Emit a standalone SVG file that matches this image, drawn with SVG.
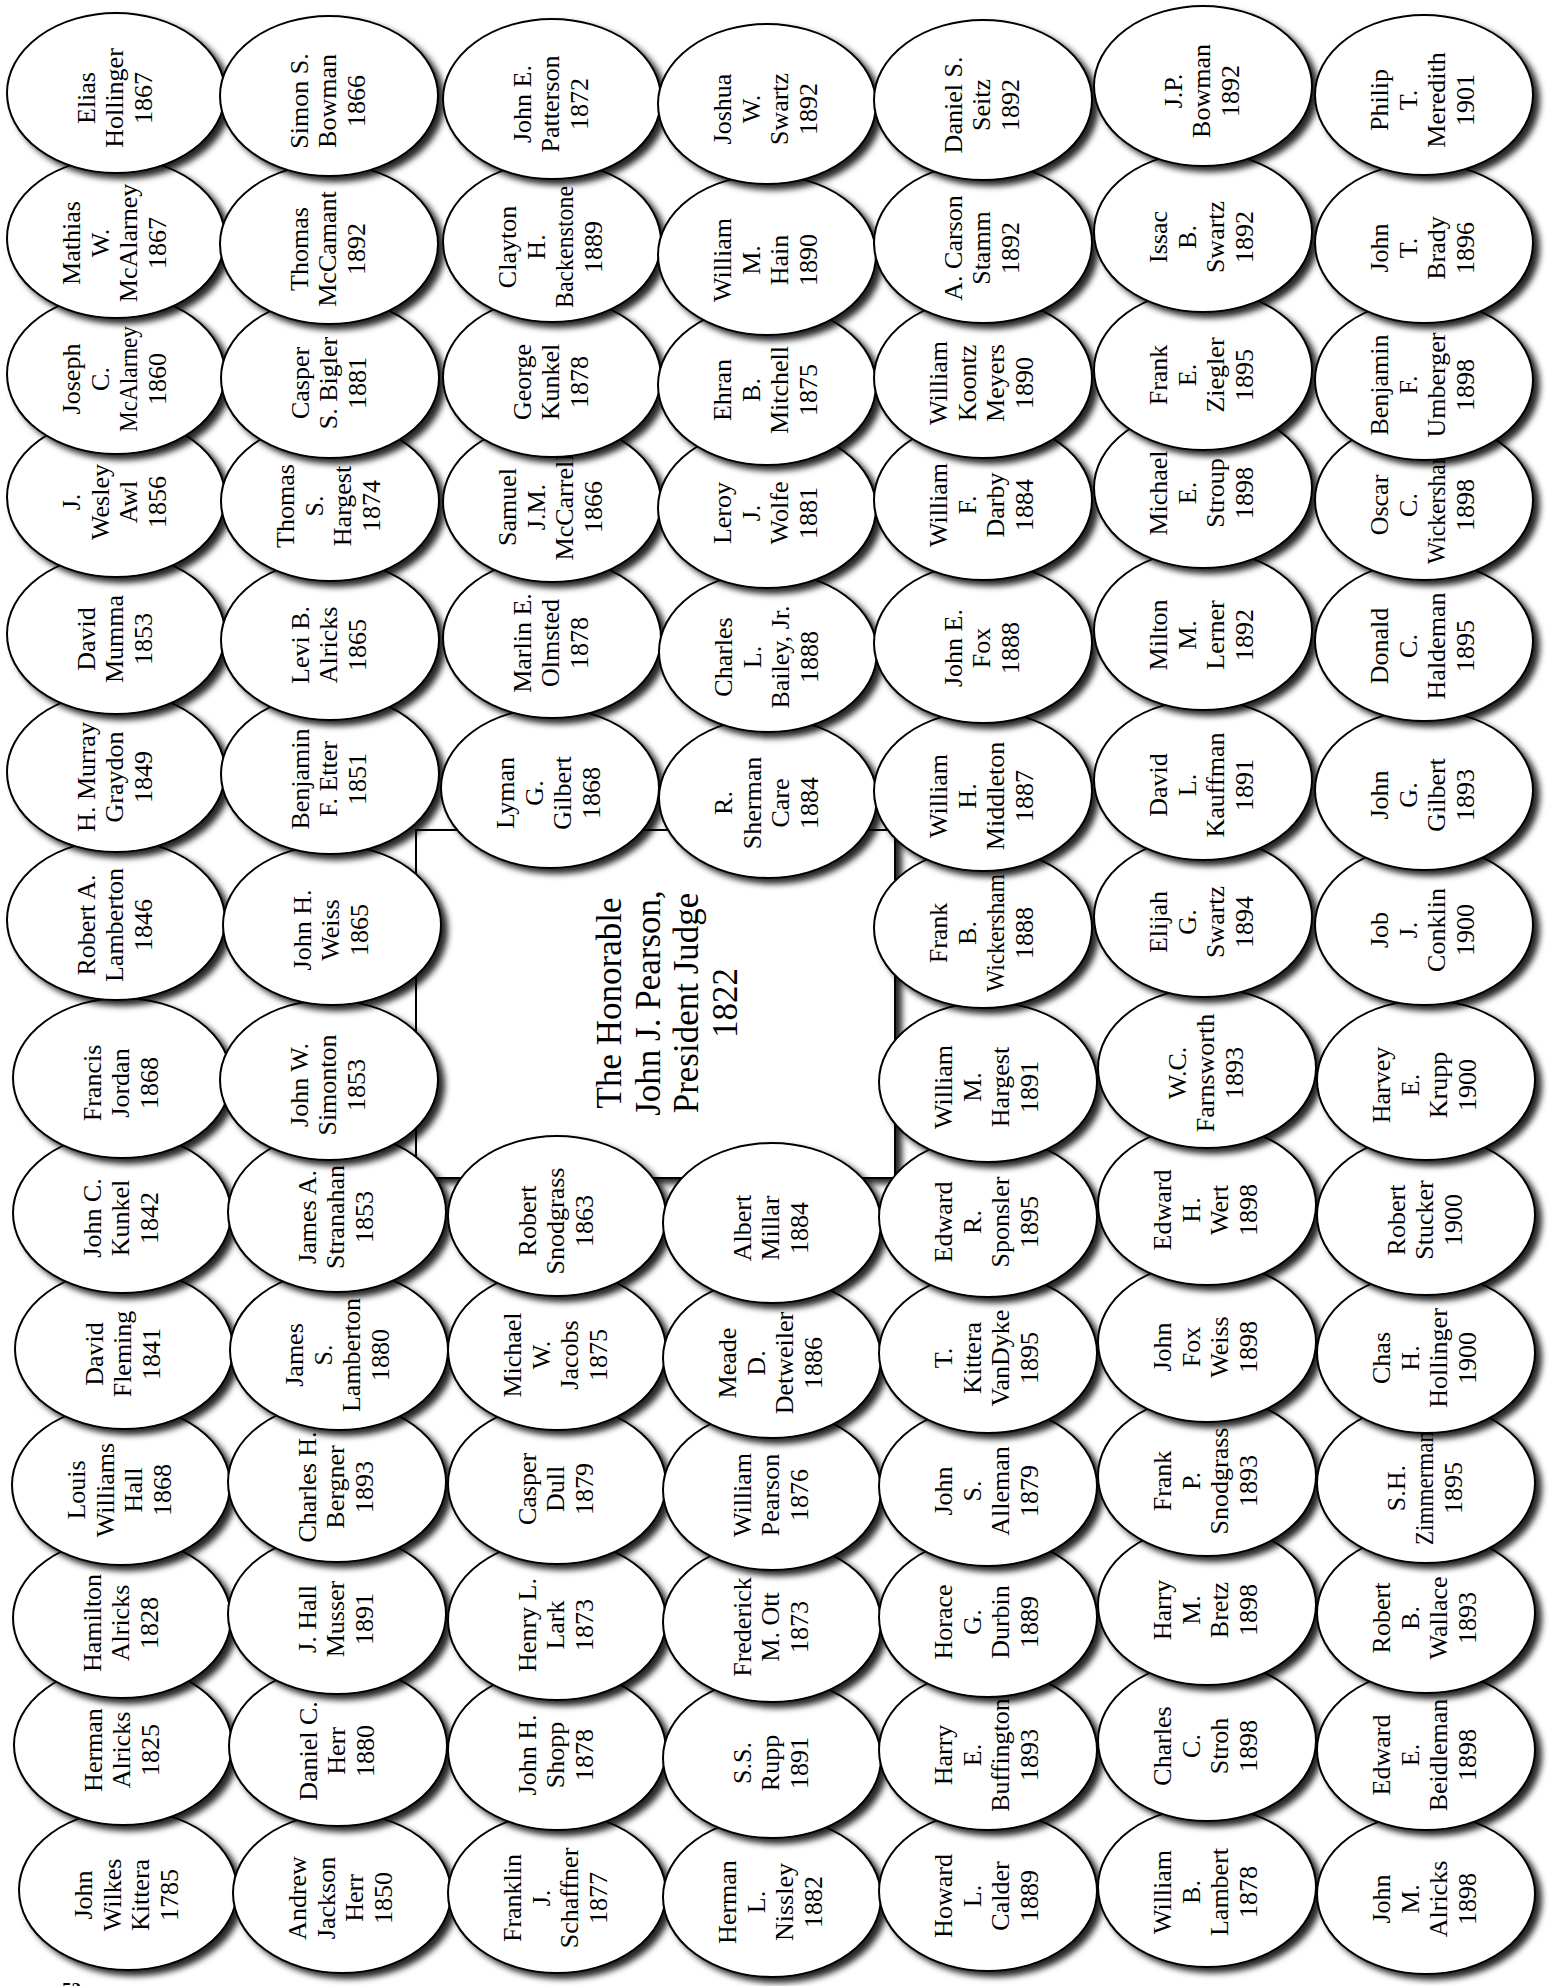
<svg xmlns="http://www.w3.org/2000/svg" width="1551" height="1986" viewBox="0 0 1551 1986">
<defs>
<filter id="sh" x="-10%" y="-10%" width="125%" height="130%">
<feDropShadow dx="6" dy="5" stdDeviation="3" flood-color="#000" flood-opacity="0.85"/>
</filter>
</defs>
<style>
.e{fill:#fff;stroke:#000;stroke-width:2;filter:url(#sh)}
.t{font-family:"Liberation Serif","Times New Roman",serif;font-size:26px;fill:#000;text-anchor:middle}
.b{font-family:"Liberation Serif","Times New Roman",serif;font-size:35px;fill:#000;text-anchor:middle}
</style>
<rect width="1551" height="1986" fill="#fff"/>
<g id="center-box">
<rect x="416" y="830" width="479" height="348" fill="#fff" stroke="#000" stroke-width="2" filter="url(#sh)"/>
<text class="b" transform="translate(655,1003) rotate(-90)"><tspan x="0" y="-34">The Honorable</tspan><tspan x="0" y="4.5">John J. Pearson,</tspan><tspan x="0" y="43">President Judge</tspan><tspan x="0" y="81.5">1822</tspan></text>
</g>
<g id="connectors"/>
<g id="nodes">
<!-- column 1 -->
<g id="john-wilkes-kittera" transform="translate(128,1890)"><ellipse class="e" rx="109" ry="80"/><text class="t" transform="rotate(-90)"><tspan x="-5" y="-36">John</tspan><tspan x="-5" y="-7.5">Wilkes</tspan><tspan x="-5" y="21">Kittera</tspan><tspan x="-5" y="49.5">1785</tspan></text></g>
<g id="herman-alricks" transform="translate(123,1745)"><ellipse class="e" rx="109" ry="80"/><text class="t" transform="rotate(-90)"><tspan x="-5" y="-21.5">Herman</tspan><tspan x="-5" y="7">Alricks</tspan><tspan x="-5" y="35.5">1825</tspan></text></g>
<g id="hamilton-alricks" transform="translate(122,1618)"><ellipse class="e" rx="109" ry="80"/><text class="t" transform="rotate(-90)"><tspan x="-5" y="-21.5">Hamilton</tspan><tspan x="-5" y="7">Alricks</tspan><tspan x="-5" y="35.5">1828</tspan></text></g>
<g id="louis-williams-hall" transform="translate(121,1485)"><ellipse class="e" rx="109" ry="80"/><text class="t" transform="rotate(-90)"><tspan x="-5" y="-36">Louis</tspan><tspan x="-5" y="-7.5">Williams</tspan><tspan x="-5" y="21">Hall</tspan><tspan x="-5" y="49.5">1868</tspan></text></g>
<g id="david-fleming" transform="translate(124,1349)"><ellipse class="e" rx="109" ry="80"/><text class="t" transform="rotate(-90)"><tspan x="-5" y="-21.5">David</tspan><tspan x="-5" y="7">Fleming</tspan><tspan x="-5" y="35.5">1841</tspan></text></g>
<g id="john-c-kunkel" transform="translate(122,1213)"><ellipse class="e" rx="109" ry="80"/><text class="t" transform="rotate(-90)"><tspan x="-5" y="-21.5">John C.</tspan><tspan x="-5" y="7">Kunkel</tspan><tspan x="-5" y="35.5">1842</tspan></text></g>
<g id="francis-jordan" transform="translate(122,1078)"><ellipse class="e" rx="109" ry="80"/><text class="t" transform="rotate(-90)"><tspan x="-5" y="-21.5">Francis</tspan><tspan x="-5" y="7">Jordan</tspan><tspan x="-5" y="35.5">1868</tspan></text></g>
<g id="robert-a-lamberton" transform="translate(116,920)"><ellipse class="e" rx="109" ry="80"/><text class="t" transform="rotate(-90)"><tspan x="-5" y="-21.5">Robert A.</tspan><tspan x="-5" y="7">Lamberton</tspan><tspan x="-5" y="35.5">1846</tspan></text></g>
<g id="h-murray-graydon" transform="translate(116,772)"><ellipse class="e" rx="109" ry="80"/><text class="t" transform="rotate(-90)"><tspan x="-5" y="-21.5">H. Murray</tspan><tspan x="-5" y="7">Graydon</tspan><tspan x="-5" y="35.5">1849</tspan></text></g>
<g id="david-mumma" transform="translate(116,634)"><ellipse class="e" rx="109" ry="80"/><text class="t" transform="rotate(-90)"><tspan x="-5" y="-21.5">David</tspan><tspan x="-5" y="7">Mumma</tspan><tspan x="-5" y="35.5">1853</tspan></text></g>
<g id="j-wesley-awl" transform="translate(116,497)"><ellipse class="e" rx="109" ry="80"/><text class="t" transform="rotate(-90)"><tspan x="-5" y="-36">J.</tspan><tspan x="-5" y="-7.5">Wesley</tspan><tspan x="-5" y="21">Awl</tspan><tspan x="-5" y="49.5">1856</tspan></text></g>
<g id="joseph-c-mcalarney" transform="translate(116,374)"><ellipse class="e" rx="109" ry="80"/><text class="t" transform="rotate(-90)"><tspan x="-5" y="-36">Joseph</tspan><tspan x="-5" y="-7.5">C.</tspan><tspan x="-5" y="21" textLength="106" lengthAdjust="spacingAndGlyphs">McAlarney</tspan><tspan x="-5" y="49.5">1860</tspan></text></g>
<g id="mathias-w-mcalarney" transform="translate(116,238)"><ellipse class="e" rx="109" ry="80"/><text class="t" transform="rotate(-90)"><tspan x="-5" y="-36">Mathias</tspan><tspan x="-5" y="-7.5">W.</tspan><tspan x="-5" y="21">McAlarney</tspan><tspan x="-5" y="49.5">1867</tspan></text></g>
<g id="elias-hollinger" transform="translate(116,93)"><ellipse class="e" rx="109" ry="80"/><text class="t" transform="rotate(-90)"><tspan x="-5" y="-21.5">Elias</tspan><tspan x="-5" y="7">Hollinger</tspan><tspan x="-5" y="35.5">1867</tspan></text></g>
<!-- column 2 -->
<g id="andrew-jackson-herr" transform="translate(342,1893)"><ellipse class="e" rx="109" ry="80"/><text class="t" transform="rotate(-90)"><tspan x="-5" y="-36">Andrew</tspan><tspan x="-5" y="-7.5">Jackson</tspan><tspan x="-5" y="21">Herr</tspan><tspan x="-5" y="49.5">1850</tspan></text></g>
<g id="daniel-c-herr" transform="translate(338,1746)"><ellipse class="e" rx="109" ry="80"/><text class="t" transform="rotate(-90)"><tspan x="-5" y="-21.5">Daniel C.</tspan><tspan x="-5" y="7">Herr</tspan><tspan x="-5" y="35.5">1880</tspan></text></g>
<g id="j-hall-musser" transform="translate(337,1614)"><ellipse class="e" rx="109" ry="80"/><text class="t" transform="rotate(-90)"><tspan x="-5" y="-21.5">J. Hall</tspan><tspan x="-5" y="7">Musser</tspan><tspan x="-5" y="35.5">1891</tspan></text></g>
<g id="charles-h-bergner" transform="translate(337,1482)"><ellipse class="e" rx="109" ry="80"/><text class="t" transform="rotate(-90)"><tspan x="-5" y="-21.5">Charles H.</tspan><tspan x="-5" y="7">Bergner</tspan><tspan x="-5" y="35.5">1893</tspan></text></g>
<g id="james-s-lamberton" transform="translate(339,1350)"><ellipse class="e" rx="109" ry="80"/><text class="t" transform="rotate(-90)"><tspan x="-5" y="-36">James</tspan><tspan x="-5" y="-7.5">S.</tspan><tspan x="-5" y="21">Lamberton</tspan><tspan x="-5" y="49.5">1880</tspan></text></g>
<g id="james-a-stranahan" transform="translate(337,1212)"><ellipse class="e" rx="109" ry="80"/><text class="t" transform="rotate(-90)"><tspan x="-5" y="-21.5">James A.</tspan><tspan x="-5" y="7">Stranahan</tspan><tspan x="-5" y="35.5">1853</tspan></text></g>
<g id="john-w-simonton" transform="translate(329,1080)"><ellipse class="e" rx="109" ry="80"/><text class="t" transform="rotate(-90)"><tspan x="-5" y="-21.5">John W.</tspan><tspan x="-5" y="7">Simonton</tspan><tspan x="-5" y="35.5">1853</tspan></text></g>
<g id="john-h-weiss" transform="translate(332,925)"><ellipse class="e" rx="109" ry="80"/><text class="t" transform="rotate(-90)"><tspan x="-5" y="-21.5">John H.</tspan><tspan x="-5" y="7">Weiss</tspan><tspan x="-5" y="35.5">1865</tspan></text></g>
<g id="benjamin-f-etter" transform="translate(330,774)"><ellipse class="e" rx="109" ry="80"/><text class="t" transform="rotate(-90)"><tspan x="-5" y="-21.5">Benjamin</tspan><tspan x="-5" y="7">F. Etter</tspan><tspan x="-5" y="35.5">1851</tspan></text></g>
<g id="levi-b-alricks" transform="translate(330,640)"><ellipse class="e" rx="109" ry="80"/><text class="t" transform="rotate(-90)"><tspan x="-5" y="-21.5">Levi B.</tspan><tspan x="-5" y="7">Alricks</tspan><tspan x="-5" y="35.5">1865</tspan></text></g>
<g id="thomas-s-hargest" transform="translate(330,501)"><ellipse class="e" rx="109" ry="80"/><text class="t" transform="rotate(-90)"><tspan x="-5" y="-36">Thomas</tspan><tspan x="-5" y="-7.5">S.</tspan><tspan x="-5" y="21">Hargest</tspan><tspan x="-5" y="49.5">1874</tspan></text></g>
<g id="casper-s-bigler" transform="translate(330,378)"><ellipse class="e" rx="109" ry="80"/><text class="t" transform="rotate(-90)"><tspan x="-5" y="-21.5">Casper</tspan><tspan x="-5" y="7">S. Bigler</tspan><tspan x="-5" y="35.5">1881</tspan></text></g>
<g id="thomas-mccamant" transform="translate(329,244)"><ellipse class="e" rx="109" ry="80"/><text class="t" transform="rotate(-90)"><tspan x="-5" y="-21.5">Thomas</tspan><tspan x="-5" y="7">McCamant</tspan><tspan x="-5" y="35.5">1892</tspan></text></g>
<g id="simon-s-bowman" transform="translate(329,96)"><ellipse class="e" rx="109" ry="80"/><text class="t" transform="rotate(-90)"><tspan x="-5" y="-21.5">Simon S.</tspan><tspan x="-5" y="7">Bowman</tspan><tspan x="-5" y="35.5">1866</tspan></text></g>
<!-- column 3 -->
<g id="franklin-j-schaffner" transform="translate(557,1893)"><ellipse class="e" rx="109" ry="80"/><text class="t" transform="rotate(-90)"><tspan x="-5" y="-36">Franklin</tspan><tspan x="-5" y="-7.5">J.</tspan><tspan x="-5" y="21">Schaffner</tspan><tspan x="-5" y="49.5">1877</tspan></text></g>
<g id="john-h-shopp" transform="translate(557,1750)"><ellipse class="e" rx="109" ry="80"/><text class="t" transform="rotate(-90)"><tspan x="-5" y="-21.5">John H.</tspan><tspan x="-5" y="7">Shopp</tspan><tspan x="-5" y="35.5">1878</tspan></text></g>
<g id="henry-l-lark" transform="translate(557,1620)"><ellipse class="e" rx="109" ry="80"/><text class="t" transform="rotate(-90)"><tspan x="-5" y="-21.5">Henry L.</tspan><tspan x="-5" y="7">Lark</tspan><tspan x="-5" y="35.5">1873</tspan></text></g>
<g id="casper-dull" transform="translate(557,1484)"><ellipse class="e" rx="109" ry="80"/><text class="t" transform="rotate(-90)"><tspan x="-5" y="-21.5">Casper</tspan><tspan x="-5" y="7">Dull</tspan><tspan x="-5" y="35.5">1879</tspan></text></g>
<g id="michael-w-jacobs" transform="translate(557,1350)"><ellipse class="e" rx="109" ry="80"/><text class="t" transform="rotate(-90)"><tspan x="-5" y="-36">Michael</tspan><tspan x="-5" y="-7.5">W.</tspan><tspan x="-5" y="21">Jacobs</tspan><tspan x="-5" y="49.5">1875</tspan></text></g>
<g id="robert-snodgrass" transform="translate(557,1216)"><ellipse class="e" rx="109" ry="80"/><text class="t" transform="rotate(-90)"><tspan x="-5" y="-21.5">Robert</tspan><tspan x="-5" y="7">Snodgrass</tspan><tspan x="-5" y="35.5">1863</tspan></text></g>
<g id="lyman-g-gilbert" transform="translate(550,788)"><ellipse class="e" rx="109" ry="80"/><text class="t" transform="rotate(-90)"><tspan x="-5" y="-36">Lyman</tspan><tspan x="-5" y="-7.5">G.</tspan><tspan x="-5" y="21">Gilbert</tspan><tspan x="-5" y="49.5">1868</tspan></text></g>
<g id="marlin-e-olmsted" transform="translate(552,638)"><ellipse class="e" rx="109" ry="80"/><text class="t" transform="rotate(-90)"><tspan x="-5" y="-21.5">Marlin E.</tspan><tspan x="-5" y="7">Olmsted</tspan><tspan x="-5" y="35.5">1878</tspan></text></g>
<g id="samuel-jm-mccarrell" transform="translate(552,502)"><ellipse class="e" rx="109" ry="80"/><text class="t" transform="rotate(-90)"><tspan x="-5" y="-36">Samuel</tspan><tspan x="-5" y="-7.5">J.M.</tspan><tspan x="-5" y="21">McCarrell</tspan><tspan x="-5" y="49.5">1866</tspan></text></g>
<g id="george-kunkel" transform="translate(552,377)"><ellipse class="e" rx="109" ry="80"/><text class="t" transform="rotate(-90)"><tspan x="-5" y="-21.5">George</tspan><tspan x="-5" y="7">Kunkel</tspan><tspan x="-5" y="35.5">1878</tspan></text></g>
<g id="clayton-h-backenstone" transform="translate(552,242)"><ellipse class="e" rx="109" ry="80"/><text class="t" transform="rotate(-90)"><tspan x="-5" y="-36">Clayton</tspan><tspan x="-5" y="-7.5">H.</tspan><tspan x="-5" y="21" textLength="122" lengthAdjust="spacingAndGlyphs">Backenstone</tspan><tspan x="-5" y="49.5">1889</tspan></text></g>
<g id="john-e-patterson" transform="translate(552,99)"><ellipse class="e" rx="109" ry="80"/><text class="t" transform="rotate(-90)"><tspan x="-5" y="-21.5">John E.</tspan><tspan x="-5" y="7">Patterson</tspan><tspan x="-5" y="35.5">1872</tspan></text></g>
<!-- column 4 -->
<g id="herman-l-nissley" transform="translate(772,1897)"><ellipse class="e" rx="109" ry="80"/><text class="t" transform="rotate(-90)"><tspan x="-5" y="-36">Herman</tspan><tspan x="-5" y="-7.5">L.</tspan><tspan x="-5" y="21">Nissley</tspan><tspan x="-5" y="49.5">1882</tspan></text></g>
<g id="ss-rupp" transform="translate(772,1758)"><ellipse class="e" rx="109" ry="80"/><text class="t" transform="rotate(-90)"><tspan x="-5" y="-21.5">S.S.</tspan><tspan x="-5" y="7">Rupp</tspan><tspan x="-5" y="35.5">1891</tspan></text></g>
<g id="frederick-m-ott" transform="translate(772,1622)"><ellipse class="e" rx="109" ry="80"/><text class="t" transform="rotate(-90)"><tspan x="-5" y="-21.5">Frederick</tspan><tspan x="-5" y="7">M. Ott</tspan><tspan x="-5" y="35.5">1873</tspan></text></g>
<g id="william-pearson" transform="translate(772,1490)"><ellipse class="e" rx="109" ry="80"/><text class="t" transform="rotate(-90)"><tspan x="-5" y="-21.5">William</tspan><tspan x="-5" y="7">Pearson</tspan><tspan x="-5" y="35.5">1876</tspan></text></g>
<g id="meade-d-detweiler" transform="translate(772,1358)"><ellipse class="e" rx="109" ry="80"/><text class="t" transform="rotate(-90)"><tspan x="-5" y="-36">Meade</tspan><tspan x="-5" y="-7.5">D.</tspan><tspan x="-5" y="21">Detweiler</tspan><tspan x="-5" y="49.5">1886</tspan></text></g>
<g id="albert-millar" transform="translate(772,1223)"><ellipse class="e" rx="109" ry="80"/><text class="t" transform="rotate(-90)"><tspan x="-5" y="-21.5">Albert</tspan><tspan x="-5" y="7">Millar</tspan><tspan x="-5" y="35.5">1884</tspan></text></g>
<g id="r-sherman-care" transform="translate(768,798)"><ellipse class="e" rx="109" ry="80"/><text class="t" transform="rotate(-90)"><tspan x="-5" y="-36">R.</tspan><tspan x="-5" y="-7.5">Sherman</tspan><tspan x="-5" y="21">Care</tspan><tspan x="-5" y="49.5">1884</tspan></text></g>
<g id="charles-l-bailey-jr" transform="translate(768,652)"><ellipse class="e" rx="109" ry="80"/><text class="t" transform="rotate(-90)"><tspan x="-5" y="-36">Charles</tspan><tspan x="-5" y="-7.5">L.</tspan><tspan x="-5" y="21">Bailey, Jr.</tspan><tspan x="-5" y="49.5">1888</tspan></text></g>
<g id="leroy-j-wolfe" transform="translate(767,508)"><ellipse class="e" rx="109" ry="80"/><text class="t" transform="rotate(-90)"><tspan x="-5" y="-36">Leroy</tspan><tspan x="-5" y="-7.5">J.</tspan><tspan x="-5" y="21">Wolfe</tspan><tspan x="-5" y="49.5">1881</tspan></text></g>
<g id="ehran-b-mitchell" transform="translate(767,385)"><ellipse class="e" rx="109" ry="80"/><text class="t" transform="rotate(-90)"><tspan x="-5" y="-36">Ehran</tspan><tspan x="-5" y="-7.5">B.</tspan><tspan x="-5" y="21">Mitchell</tspan><tspan x="-5" y="49.5">1875</tspan></text></g>
<g id="william-m-hain" transform="translate(767,255)"><ellipse class="e" rx="109" ry="80"/><text class="t" transform="rotate(-90)"><tspan x="-5" y="-36">William</tspan><tspan x="-5" y="-7.5">M.</tspan><tspan x="-5" y="21">Hain</tspan><tspan x="-5" y="49.5">1890</tspan></text></g>
<g id="joshua-w-swartz" transform="translate(767,104)"><ellipse class="e" rx="109" ry="80"/><text class="t" transform="rotate(-90)"><tspan x="-5" y="-36">Joshua</tspan><tspan x="-5" y="-7.5">W.</tspan><tspan x="-5" y="21">Swartz</tspan><tspan x="-5" y="49.5">1892</tspan></text></g>
<!-- column 5 -->
<g id="howard-l-calder" transform="translate(988,1891)"><ellipse class="e" rx="109" ry="80"/><text class="t" transform="rotate(-90)"><tspan x="-5" y="-36">Howard</tspan><tspan x="-5" y="-7.5">L.</tspan><tspan x="-5" y="21">Calder</tspan><tspan x="-5" y="49.5">1889</tspan></text></g>
<g id="harry-e-buffington" transform="translate(988,1750)"><ellipse class="e" rx="109" ry="80"/><text class="t" transform="rotate(-90)"><tspan x="-5" y="-36">Harry</tspan><tspan x="-5" y="-7.5">E.</tspan><tspan x="-5" y="21">Buffington</tspan><tspan x="-5" y="49.5">1893</tspan></text></g>
<g id="horace-g-durbin" transform="translate(988,1617)"><ellipse class="e" rx="109" ry="80"/><text class="t" transform="rotate(-90)"><tspan x="-5" y="-36">Horace</tspan><tspan x="-5" y="-7.5">G.</tspan><tspan x="-5" y="21">Durbin</tspan><tspan x="-5" y="49.5">1889</tspan></text></g>
<g id="john-s-alleman" transform="translate(988,1486)"><ellipse class="e" rx="109" ry="80"/><text class="t" transform="rotate(-90)"><tspan x="-5" y="-36">John</tspan><tspan x="-5" y="-7.5">S.</tspan><tspan x="-5" y="21">Alleman</tspan><tspan x="-5" y="49.5">1879</tspan></text></g>
<g id="t-kittera-vandyke" transform="translate(988,1353)"><ellipse class="e" rx="109" ry="80"/><text class="t" transform="rotate(-90)"><tspan x="-5" y="-36">T.</tspan><tspan x="-5" y="-7.5">Kittera</tspan><tspan x="-5" y="21">VanDyke</tspan><tspan x="-5" y="49.5">1895</tspan></text></g>
<g id="edward-r-sponsler" transform="translate(988,1217)"><ellipse class="e" rx="109" ry="80"/><text class="t" transform="rotate(-90)"><tspan x="-5" y="-36">Edward</tspan><tspan x="-5" y="-7.5">R.</tspan><tspan x="-5" y="21">Sponsler</tspan><tspan x="-5" y="49.5">1895</tspan></text></g>
<g id="william-m-hargest" transform="translate(988,1082)"><ellipse class="e" rx="109" ry="80"/><text class="t" transform="rotate(-90)"><tspan x="-5" y="-36">William</tspan><tspan x="-5" y="-7.5">M.</tspan><tspan x="-5" y="21">Hargest</tspan><tspan x="-5" y="49.5">1891</tspan></text></g>
<g id="frank-b-wickersham" transform="translate(983,928)"><ellipse class="e" rx="109" ry="80"/><text class="t" transform="rotate(-90)"><tspan x="-5" y="-36">Frank</tspan><tspan x="-5" y="-7.5">B.</tspan><tspan x="-5" y="21" textLength="118" lengthAdjust="spacingAndGlyphs">Wickersham</tspan><tspan x="-5" y="49.5">1888</tspan></text></g>
<g id="william-h-middleton" transform="translate(983,791)"><ellipse class="e" rx="109" ry="80"/><text class="t" transform="rotate(-90)"><tspan x="-5" y="-36">William</tspan><tspan x="-5" y="-7.5">H.</tspan><tspan x="-5" y="21">Middleton</tspan><tspan x="-5" y="49.5">1887</tspan></text></g>
<g id="john-e-fox" transform="translate(983,643)"><ellipse class="e" rx="109" ry="80"/><text class="t" transform="rotate(-90)"><tspan x="-5" y="-21.5">John E.</tspan><tspan x="-5" y="7">Fox</tspan><tspan x="-5" y="35.5">1888</tspan></text></g>
<g id="william-f-darby" transform="translate(983,500)"><ellipse class="e" rx="109" ry="80"/><text class="t" transform="rotate(-90)"><tspan x="-5" y="-36">William</tspan><tspan x="-5" y="-7.5">F.</tspan><tspan x="-5" y="21">Darby</tspan><tspan x="-5" y="49.5">1884</tspan></text></g>
<g id="william-koontz-meyers" transform="translate(983,378)"><ellipse class="e" rx="109" ry="80"/><text class="t" transform="rotate(-90)"><tspan x="-5" y="-36">William</tspan><tspan x="-5" y="-7.5">Koontz</tspan><tspan x="-5" y="21">Meyers</tspan><tspan x="-5" y="49.5">1890</tspan></text></g>
<g id="a-carson-stamm" transform="translate(983,243)"><ellipse class="e" rx="109" ry="80"/><text class="t" transform="rotate(-90)"><tspan x="-5" y="-21.5">A. Carson</tspan><tspan x="-5" y="7">Stamm</tspan><tspan x="-5" y="35.5">1892</tspan></text></g>
<g id="daniel-s-seitz" transform="translate(983,100)"><ellipse class="e" rx="109" ry="80"/><text class="t" transform="rotate(-90)"><tspan x="-5" y="-21.5">Daniel S.</tspan><tspan x="-5" y="7">Seitz</tspan><tspan x="-5" y="35.5">1892</tspan></text></g>
<!-- column 6 -->
<g id="william-b-lambert" transform="translate(1207,1887)"><ellipse class="e" rx="109" ry="80"/><text class="t" transform="rotate(-90)"><tspan x="-5" y="-36">William</tspan><tspan x="-5" y="-7.5">B.</tspan><tspan x="-5" y="21">Lambert</tspan><tspan x="-5" y="49.5">1878</tspan></text></g>
<g id="charles-c-stroh" transform="translate(1207,1741)"><ellipse class="e" rx="109" ry="80"/><text class="t" transform="rotate(-90)"><tspan x="-5" y="-36">Charles</tspan><tspan x="-5" y="-7.5">C.</tspan><tspan x="-5" y="21">Stroh</tspan><tspan x="-5" y="49.5">1898</tspan></text></g>
<g id="harry-m-bretz" transform="translate(1207,1605)"><ellipse class="e" rx="109" ry="80"/><text class="t" transform="rotate(-90)"><tspan x="-5" y="-36">Harry</tspan><tspan x="-5" y="-7.5">M.</tspan><tspan x="-5" y="21">Bretz</tspan><tspan x="-5" y="49.5">1898</tspan></text></g>
<g id="frank-p-snodgrass" transform="translate(1207,1476)"><ellipse class="e" rx="109" ry="80"/><text class="t" transform="rotate(-90)"><tspan x="-5" y="-36">Frank</tspan><tspan x="-5" y="-7.5">P.</tspan><tspan x="-5" y="21">Snodgrass</tspan><tspan x="-5" y="49.5">1893</tspan></text></g>
<g id="john-fox-weiss" transform="translate(1207,1342)"><ellipse class="e" rx="109" ry="80"/><text class="t" transform="rotate(-90)"><tspan x="-5" y="-36">John</tspan><tspan x="-5" y="-7.5">Fox</tspan><tspan x="-5" y="21">Weiss</tspan><tspan x="-5" y="49.5">1898</tspan></text></g>
<g id="edward-h-wert" transform="translate(1207,1205)"><ellipse class="e" rx="109" ry="80"/><text class="t" transform="rotate(-90)"><tspan x="-5" y="-36">Edward</tspan><tspan x="-5" y="-7.5">H.</tspan><tspan x="-5" y="21">Wert</tspan><tspan x="-5" y="49.5">1898</tspan></text></g>
<g id="wc-farnsworth" transform="translate(1207,1068)"><ellipse class="e" rx="109" ry="80"/><text class="t" transform="rotate(-90)"><tspan x="-5" y="-21.5">W.C.</tspan><tspan x="-5" y="7">Farnsworth</tspan><tspan x="-5" y="35.5">1893</tspan></text></g>
<g id="elijah-g-swartz" transform="translate(1203,917)"><ellipse class="e" rx="109" ry="80"/><text class="t" transform="rotate(-90)"><tspan x="-5" y="-36">Elijah</tspan><tspan x="-5" y="-7.5">G.</tspan><tspan x="-5" y="21">Swartz</tspan><tspan x="-5" y="49.5">1894</tspan></text></g>
<g id="david-l-kauffman" transform="translate(1203,780)"><ellipse class="e" rx="109" ry="80"/><text class="t" transform="rotate(-90)"><tspan x="-5" y="-36">David</tspan><tspan x="-5" y="-7.5">L.</tspan><tspan x="-5" y="21">Kauffman</tspan><tspan x="-5" y="49.5">1891</tspan></text></g>
<g id="milton-m-lerner" transform="translate(1203,630)"><ellipse class="e" rx="109" ry="80"/><text class="t" transform="rotate(-90)"><tspan x="-5" y="-36">Milton</tspan><tspan x="-5" y="-7.5">M.</tspan><tspan x="-5" y="21">Lerner</tspan><tspan x="-5" y="49.5">1892</tspan></text></g>
<g id="michael-e-stroup" transform="translate(1203,488)"><ellipse class="e" rx="109" ry="80"/><text class="t" transform="rotate(-90)"><tspan x="-5" y="-36">Michael</tspan><tspan x="-5" y="-7.5">E.</tspan><tspan x="-5" y="21">Stroup</tspan><tspan x="-5" y="49.5">1898</tspan></text></g>
<g id="frank-e-ziegler" transform="translate(1203,370)"><ellipse class="e" rx="109" ry="80"/><text class="t" transform="rotate(-90)"><tspan x="-5" y="-36">Frank</tspan><tspan x="-5" y="-7.5">E.</tspan><tspan x="-5" y="21">Ziegler</tspan><tspan x="-5" y="49.5">1895</tspan></text></g>
<g id="issac-b-swartz" transform="translate(1203,232)"><ellipse class="e" rx="109" ry="80"/><text class="t" transform="rotate(-90)"><tspan x="-5" y="-36">Issac</tspan><tspan x="-5" y="-7.5">B.</tspan><tspan x="-5" y="21">Swartz</tspan><tspan x="-5" y="49.5">1892</tspan></text></g>
<g id="jp-bowman" transform="translate(1203,86)"><ellipse class="e" rx="109" ry="80"/><text class="t" transform="rotate(-90)"><tspan x="-5" y="-21.5">J.P.</tspan><tspan x="-5" y="7">Bowman</tspan><tspan x="-5" y="35.5">1892</tspan></text></g>
<!-- column 7 -->
<g id="john-m-alricks" transform="translate(1426,1894)"><ellipse class="e" rx="109" ry="80"/><text class="t" transform="rotate(-90)"><tspan x="-5" y="-36">John</tspan><tspan x="-5" y="-7.5">M.</tspan><tspan x="-5" y="21">Alricks</tspan><tspan x="-5" y="49.5">1898</tspan></text></g>
<g id="edward-e-beidleman" transform="translate(1426,1750)"><ellipse class="e" rx="109" ry="80"/><text class="t" transform="rotate(-90)"><tspan x="-5" y="-36">Edward</tspan><tspan x="-5" y="-7.5">E.</tspan><tspan x="-5" y="21">Beidleman</tspan><tspan x="-5" y="49.5">1898</tspan></text></g>
<g id="robert-b-wallace" transform="translate(1426,1613)"><ellipse class="e" rx="109" ry="80"/><text class="t" transform="rotate(-90)"><tspan x="-5" y="-36">Robert</tspan><tspan x="-5" y="-7.5">B.</tspan><tspan x="-5" y="21">Wallace</tspan><tspan x="-5" y="49.5">1893</tspan></text></g>
<g id="sh-zimmerman" transform="translate(1426,1483)"><ellipse class="e" rx="109" ry="80"/><text class="t" transform="rotate(-90)"><tspan x="-5" y="-21.5">S.H.</tspan><tspan x="-5" y="7" textLength="114" lengthAdjust="spacingAndGlyphs">Zimmerman</tspan><tspan x="-5" y="35.5">1895</tspan></text></g>
<g id="chas-h-hollinger" transform="translate(1426,1353)"><ellipse class="e" rx="109" ry="80"/><text class="t" transform="rotate(-90)"><tspan x="-5" y="-36">Chas</tspan><tspan x="-5" y="-7.5">H.</tspan><tspan x="-5" y="21">Hollinger</tspan><tspan x="-5" y="49.5">1900</tspan></text></g>
<g id="robert-stucker" transform="translate(1426,1215)"><ellipse class="e" rx="109" ry="80"/><text class="t" transform="rotate(-90)"><tspan x="-5" y="-21.5">Robert</tspan><tspan x="-5" y="7">Stucker</tspan><tspan x="-5" y="35.5">1900</tspan></text></g>
<g id="harvey-e-krupp" transform="translate(1426,1080)"><ellipse class="e" rx="109" ry="80"/><text class="t" transform="rotate(-90)"><tspan x="-5" y="-36">Harvey</tspan><tspan x="-5" y="-7.5">E.</tspan><tspan x="-5" y="21">Krupp</tspan><tspan x="-5" y="49.5">1900</tspan></text></g>
<g id="job-j-conklin" transform="translate(1424,925)"><ellipse class="e" rx="109" ry="80"/><text class="t" transform="rotate(-90)"><tspan x="-5" y="-36">Job</tspan><tspan x="-5" y="-7.5">J.</tspan><tspan x="-5" y="21">Conklin</tspan><tspan x="-5" y="49.5">1900</tspan></text></g>
<g id="john-g-gilbert" transform="translate(1424,790)"><ellipse class="e" rx="109" ry="80"/><text class="t" transform="rotate(-90)"><tspan x="-5" y="-36">John</tspan><tspan x="-5" y="-7.5">G.</tspan><tspan x="-5" y="21">Gilbert</tspan><tspan x="-5" y="49.5">1893</tspan></text></g>
<g id="donald-c-haldeman" transform="translate(1424,641)"><ellipse class="e" rx="109" ry="80"/><text class="t" transform="rotate(-90)"><tspan x="-5" y="-36">Donald</tspan><tspan x="-5" y="-7.5">C.</tspan><tspan x="-5" y="21">Haldeman</tspan><tspan x="-5" y="49.5">1895</tspan></text></g>
<g id="oscar-c-wickersham" transform="translate(1424,500)"><ellipse class="e" rx="109" ry="80"/><text class="t" transform="rotate(-90)"><tspan x="-5" y="-36">Oscar</tspan><tspan x="-5" y="-7.5">C.</tspan><tspan x="-5" y="21" textLength="118" lengthAdjust="spacingAndGlyphs">Wickersham</tspan><tspan x="-5" y="49.5">1898</tspan></text></g>
<g id="benjamin-f-umberger" transform="translate(1424,380)"><ellipse class="e" rx="109" ry="80"/><text class="t" transform="rotate(-90)"><tspan x="-5" y="-36">Benjamin</tspan><tspan x="-5" y="-7.5">F.</tspan><tspan x="-5" y="21">Umberger</tspan><tspan x="-5" y="49.5">1898</tspan></text></g>
<g id="john-t-brady" transform="translate(1424,243)"><ellipse class="e" rx="109" ry="80"/><text class="t" transform="rotate(-90)"><tspan x="-5" y="-36">John</tspan><tspan x="-5" y="-7.5">T.</tspan><tspan x="-5" y="21">Brady</tspan><tspan x="-5" y="49.5">1896</tspan></text></g>
<g id="philip-t-meredith" transform="translate(1424,95)"><ellipse class="e" rx="109" ry="80"/><text class="t" transform="rotate(-90)"><tspan x="-5" y="-36">Philip</tspan><tspan x="-5" y="-7.5">T.</tspan><tspan x="-5" y="21">Meredith</tspan><tspan x="-5" y="49.5">1901</tspan></text></g>
</g>
<text x="62" y="1996" font-family="Liberation Serif, serif" font-size="19" font-weight="bold" fill="#000">52</text>
</svg>
